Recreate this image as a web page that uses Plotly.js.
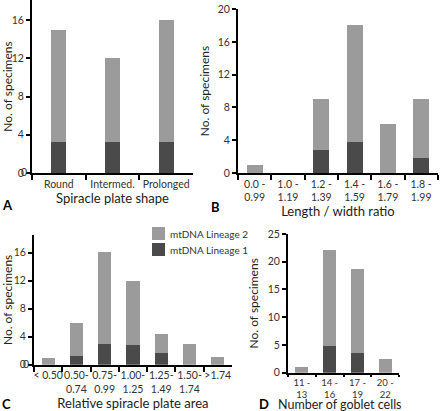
<!DOCTYPE html>
<html>
<head>
<meta charset="utf-8">
<script src="https://cdn.plot.ly/plotly-3.0.1.min.js"></script>
<style>html,body{margin:0;padding:0;background:#fff;}#chart{width:440px;height:411px;}</style>
</head>
<body>
<div id="chart"></div>
<script>
// Panel A: spiracle plate shape
const catsA = ["Round", "Intermed.", "Prolonged"];
const lin1A = [3.2, 3.2, 3.2];
const lin2A = [11.8, 8.8, 12.8];
const yTicksA = [0, 4, 8, 12, 16];

// Panel B: length / width ratio
const catsB = ["0.0 -<br>0.99", "1.0 -<br>1.19", "1.2 -<br>1.39", "1.4 -<br>1.59", "1.6 -<br>1.79", "1.8 -<br>1.99"];
const lin1B = [0, 0, 2.8, 3.8, 0, 1.8];
const lin2B = [1, 0, 6.2, 14.2, 6, 7.2];
const yTicksB = [0, 4, 8, 12, 16, 20];

// Panel C: relative spiracle plate area
const catsC = ["< 0.50", "0.50-<br>0.74", "0.75-<br>0.99", "1.00-<br>1.25", "1.25-<br>1.49", "1.50-<br>1.74", ">1.74"];
const lin1C = [0, 1.2, 2.9, 2.8, 1.6, 0, 0];
const lin2C = [1, 4.7, 13.2, 9.2, 2.8, 3, 1.1];
const yTicksC = [0, 4, 8, 12, 16];

// Panel D: number of goblet cells
const catsD = ["11 -<br>13", "14 -<br>16", "17 -<br>19", "20 -<br>22"];
const lin1D = [0, 4.9, 3.6, 0];
const lin2D = [1.1, 17.3, 15.1, 2.4];
const yTicksD = [0, 5, 10, 15, 20, 25];

const seriesNames = ["mtDNA Lineage 1", "mtDNA Lineage 2"];
const titles = ["Spiracle plate shape", "Length / width ratio", "Relative spiracle plate area", "Number of goblet cells"];
const DARK = "#4a4a4a", LIGHT = "#9b9b9b";
const FONT = "Lato, 'Open Sans', sans-serif";

function pair(cats, l1, l2, xa, ya, w) {
  return [
    {type: "bar", x: cats, y: l1, name: seriesNames[0], marker: {color: DARK}, width: w,
     xaxis: xa, yaxis: ya, showlegend: false, hoverinfo: "none"},
    {type: "bar", x: cats, y: l2, name: seriesNames[1], marker: {color: LIGHT}, width: w,
     xaxis: xa, yaxis: ya, showlegend: false, hoverinfo: "none"}
  ];
}

const data = [].concat(
  pair(catsA, lin1A, lin2A, "x", "y", 0.28),
  pair(catsB, lin1B, lin2B, "x2", "y2", 0.48),
  pair(catsC, lin1C, lin2C, "x3", "y3", 0.47),
  pair(catsD, lin1D, lin2D, "x4", "y4", 0.47)
);

function xax(domain, anchor, title, standoff) {
  return {domain: domain, anchor: anchor, type: "category", showline: true, linecolor: "#000", linewidth: 2,
    ticks: "outside", tickson: "boundaries", ticklen: 5, tickwidth: 2, tickcolor: "#000", tickangle: 0,
    showgrid: false, zeroline: false, fixedrange: true,
    tickfont: {family: FONT, size: 10.5, color: "#333"},
    title: {text: title, font: {family: FONT, size: 13, color: "#222"}, standoff: standoff}};
}
function yax(domain, anchor, range, tickvals) {
  return {domain: domain, anchor: anchor, range: range, tickmode: "array", tickvals: tickvals,
    ticktext: tickvals.map(String), ticklabeloverflow: "allow",
    showline: true, linecolor: "#000", linewidth: 2,
    ticks: "outside", ticklen: 4, tickwidth: 2, tickcolor: "#000", showgrid: false, zeroline: false,
    fixedrange: true, tickfont: {family: FONT, size: 10.5, color: "#333"},
    title: {text: "No. of specimens", font: {family: FONT, size: 12, color: "#222"}, standoff: 6}};
}

function px(v) { return v / 440; }
function py(v) { return 1 - v / 411; }

const xD = xax([0.6545, 0.907], "y4", "", 0);
xD.ticklen = 2;
xD.tickfont = {family: FONT, size: 9.5, color: "#333"};

const tickFont = {family: FONT, size: 10.5, color: "#333"};

const layout = {
  width: 440, height: 411,
  margin: {l: 0, r: 0, t: 0, b: 0},
  paper_bgcolor: "#fff", plot_bgcolor: "rgba(0,0,0,0)",
  barmode: "stack",
  showlegend: false,
  font: {family: FONT, color: "#222"},
  xaxis: xax([0.0727, 0.4386], "y", titles[0], 3),
  yaxis: yax([0.579, 1.0], "x", [0, 18.1], yTicksA),
  xaxis2: xax([0.541, 0.995], "y2", titles[1], 1),
  yaxis2: yax([0.579, 0.978], "x2", [0, 20], yTicksB),
  xaxis3: xax([0.0773, 0.527], "y3", titles[2], 3),
  yaxis3: yax([0.1127, 0.428], "x3", [0, 18.5], yTicksC),
  xaxis4: xD,
  yaxis4: yax([0.0932, 0.4307], "x4", [0, 25], yTicksD),
  shapes: [
    {type: "rect", xref: "paper", yref: "paper", x0: px(152), x1: px(165), y0: py(240), y1: py(227), fillcolor: LIGHT, line: {width: 0}},
    {type: "rect", xref: "paper", yref: "paper", x0: px(152), x1: px(165), y0: py(256), y1: py(243), fillcolor: DARK, line: {width: 0}}
  ],
  annotations: [
    {text: String(yTicksA[0]), xref: "paper", yref: "paper", x: px(24), y: py(172), xanchor: "center", yanchor: "middle", showarrow: false, font: tickFont},
    {text: String(yTicksC[0]), xref: "paper", yref: "paper", x: px(26), y: py(364), xanchor: "center", yanchor: "middle", showarrow: false, font: tickFont},
    {text: titles[3], xref: "paper", yref: "paper", x: px(340), y: py(404.5), xanchor: "center", yanchor: "middle", showarrow: false, font: {family: FONT, size: 12.5, color: "#222"}},
    {text: seriesNames[1], xref: "paper", yref: "paper", x: px(168), y: py(233.5), xanchor: "left", yanchor: "middle", showarrow: false, font: {family: FONT, size: 10, color: "#333"}},
    {text: seriesNames[0], xref: "paper", yref: "paper", x: px(168), y: py(249.5), xanchor: "left", yanchor: "middle", showarrow: false, font: {family: FONT, size: 10, color: "#333"}},
    {text: "<b>A</b>", xref: "paper", yref: "paper", x: 0.0, y: py(205), xanchor: "left", yanchor: "middle", showarrow: false, font: {family: FONT, size: 13, color: "#000"}},
    {text: "<b>B</b>", xref: "paper", yref: "paper", x: px(209), y: py(207), xanchor: "left", yanchor: "middle", showarrow: false, font: {family: FONT, size: 13, color: "#000"}},
    {text: "<b>C</b>", xref: "paper", yref: "paper", x: 0.0, y: py(404), xanchor: "left", yanchor: "middle", showarrow: false, font: {family: FONT, size: 13, color: "#000"}},
    {text: "<b>D</b>", xref: "paper", yref: "paper", x: px(257), y: py(404), xanchor: "left", yanchor: "middle", showarrow: false, font: {family: FONT, size: 13, color: "#000"}}
  ]
};

Plotly.newPlot("chart", data, layout, {displayModeBar: false, staticPlot: true});
</script>
</body>
</html>
